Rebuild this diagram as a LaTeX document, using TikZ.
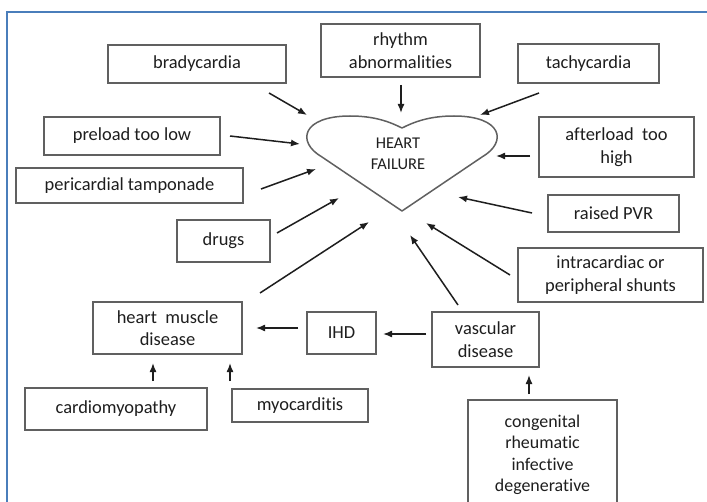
\documentclass[tikz,border=0pt]{standalone}
\usepackage{fontspec}
\setmainfont[Ligatures=NoCommon]{Carlito}
\usetikzlibrary{arrows.meta}
\definecolor{framebl}{HTML}{4A7EBB}
\definecolor{boxln}{HTML}{606060}
\definecolor{ink}{HTML}{1E1E1E}
\tikzset{
  every node/.style={text=ink},
  cbox/.style={draw=boxln, line width=1.3bp, align=center, inner sep=0pt,
    font=\fontsize{18.5}{22.5}\selectfont},
  arr/.style={draw=ink, line width=1.5bp, -{Latex[length=9bp,width=7bp]}},
}
\begin{document}
\begin{tikzpicture}[x=1bp, y=-1bp]
\clip (0,0) rectangle (707,502);
\fill[white] (0,0) rectangle (707,502);

% page frame
\draw[framebl, line width=2bp] (7,510) -- (7,12) -- (712,12);

% heart
\draw[boxln, line width=1.5bp, line join=round]
  (402,211) -- (322,157)
  .. controls (296,142) and (302,116) .. (350,116)
  .. controls (375,116) and (390,122) .. (402,128)
  .. controls (414,122) and (429,116) .. (454,116)
  .. controls (502,116) and (508,142) .. (482,157)
  -- cycle;
\node[font=\fontsize{16.5}{21}\selectfont, align=center] (hf) at (398,154) {HEART\\FAILURE};

% cause boxes
\node[cbox, minimum width=178bp, minimum height=38bp] (brady) at (197,64) {bradycardia};
\node[cbox, minimum width=159bp, minimum height=53bp] (rhythm) at (400.5,50.5) {rhythm\\abnormalities};
\node[cbox, minimum width=141bp, minimum height=39bp] (tachy) at (588.5,63.5) {tachycardia};
\node[cbox, minimum width=176bp, minimum height=38bp] (preload) at (132,136) {preload too low};
\node[cbox, minimum width=155bp, minimum height=60bp] (afterload) at (616.5,147) {afterload\ \ too\\high};
\node[cbox, minimum width=227bp, minimum height=35bp] (peri) at (129.5,185.5) {pericardial tamponade};
\node[cbox, minimum width=131bp, minimum height=37bp] (pvr) at (613.5,213.5) {raised PVR};
\node[cbox, minimum width=93bp, minimum height=42bp] (drugs) at (223.5,241) {drugs};
\node[cbox, minimum width=185bp, minimum height=54bp] (shunts) at (610.5,275) {intracardiac or\\peripheral shunts};
\node[cbox, minimum width=149bp, minimum height=52bp] (hmd) at (167.5,328) {heart\ \ muscle\\disease};
\node[cbox, minimum width=69bp, minimum height=42bp] (ihd) at (341.5,333) {IHD};
\node[cbox, minimum width=107bp, minimum height=55bp] (vasc) at (485.5,339.5) {vascular\\disease};
\node[cbox, minimum width=182bp, minimum height=42bp] (cardio) at (116,409) {cardiomyopathy};
\node[cbox, minimum width=136bp, minimum height=33bp] (myo) at (300,405.5) {myocarditis};
\node[cbox, minimum width=149bp, minimum height=110bp, font=\fontsize{18}{21.5}\selectfont] (cong) at (542.5,455)
  {congenital\\rheumatic\\infective\\degenerative};

% arrow end points
\coordinate (bradyS) at (269,93);   \coordinate (bradyE) at (307,115);
\coordinate (rhyS) at (401,85);     \coordinate (rhyE) at (401,113);
\coordinate (tachyS) at (539,93);   \coordinate (tachyE) at (480,115);
\coordinate (preS) at (230,136);    \coordinate (preE) at (300,144);
\coordinate (aftS) at (530,156);    \coordinate (aftE) at (496,156);
\coordinate (periS) at (261,189);   \coordinate (periE) at (316,169);
\coordinate (drugS) at (277,233);   \coordinate (drugE) at (339,198);
\coordinate (hmdS) at (260,293);    \coordinate (hmdE) at (369,222);
\coordinate (pvrS) at (532,213);    \coordinate (pvrE) at (458,197);
\coordinate (shS) at (510,275);     \coordinate (shE) at (426,223);
\coordinate (vaS) at (458,305);     \coordinate (vaE) at (410,235);
\coordinate (ihdS) at (298,328);    \coordinate (ihdE) at (256,328);
\coordinate (v2S) at (426,334);     \coordinate (v2E) at (383,334);
\coordinate (cmS) at (153,381);     \coordinate (cmE) at (153,363);
\coordinate (myS) at (230,381);     \coordinate (myE) at (230,363);
\coordinate (coS) at (529,394);     \coordinate (coE) at (529,375);

% arrows
\foreach \a in {brady,rhy,tachy,pre,aft,peri,drug,hmd,pvr,sh,va,ihd,v2,cm,my,co}
  \draw[arr] (\a S) -- (\a E);
\end{tikzpicture}
\end{document}
